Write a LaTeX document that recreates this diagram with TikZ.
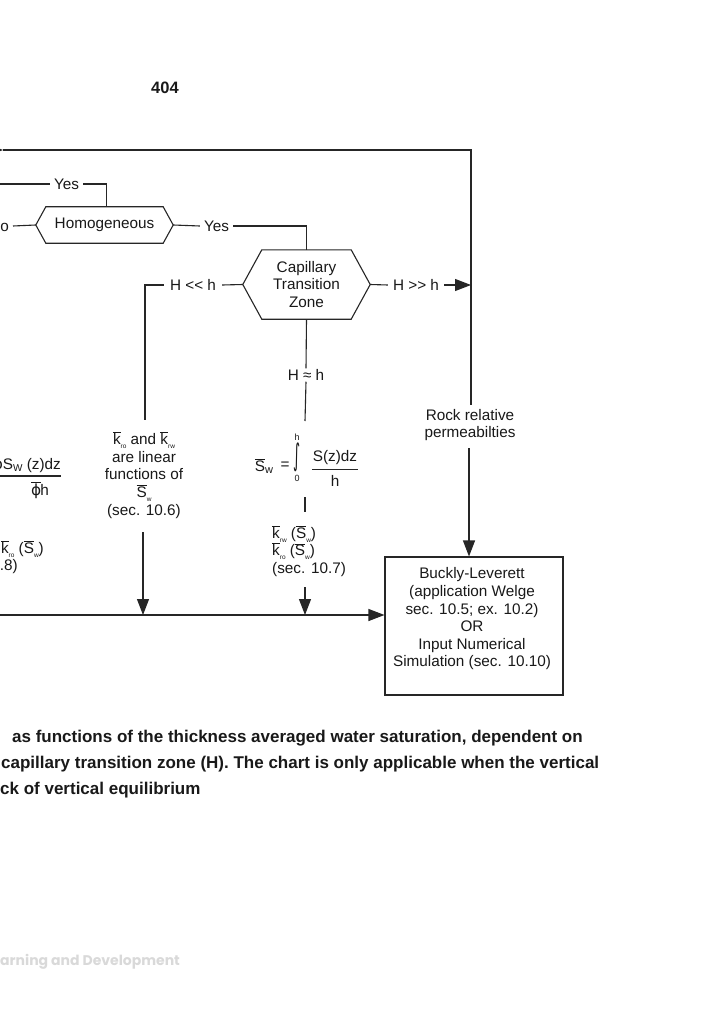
\documentclass[tikz,border=0pt]{standalone}
\usepackage{fontspec}
\setmainfont{Liberation Sans}
\newfontfamily\dejavu{DejaVu Sans}
\newfontfamily\footfont{Poppins}
\usetikzlibrary{arrows.meta,calc}
\newcommand{\ovl}[1]{$\overline{\mbox{#1}}$}
\newcommand{\sbs}[1]{\raisebox{-0.45ex}{\fontsize{6.5}{6.5}\selectfont #1}}
\newcommand{\kk}[1]{\ovl{k}\sbs{#1}}
\newcommand{\SSw}{\ovl{S}\sbs{w}}
\begin{document}
\begin{tikzpicture}[x=1pt,y=-1pt,
  base/.style={font=\fontsize{15.3}{17.6}\selectfont, inner ysep=1pt, inner xsep=4pt, text=black!90},
  small/.style={font=\fontsize{9}{9}\selectfont, inner sep=0pt, text=black!90},
  ln/.style={line width=1.1pt, draw=black!85},
  arr/.style={ln, -{Triangle[length=16pt,width=12pt]}},
  hexbox/.style={base, inner sep=0pt, align=center}]
\useasboundingbox (0,0) rectangle (724,1024);
\fill[white] (0,0) rectangle (724,1024);

% title
\node[font=\fontsize{16.5}{18}\selectfont\bfseries, text=black!90] (title) at (165,88) {404};

% top decision row
\node[base] (yes1) at (66.5,184) {Yes};
\node[base, anchor=east] (no) at (13,226) {No};
\node[hexbox, minimum width=137, minimum height=36] (hom) at (104.5,225) {Homogeneous};
\draw[ln] (hom.west) -- ([xshift=10]hom.north west) -- ([xshift=-10]hom.north east)
  -- (hom.east) -- ([xshift=-10]hom.south east) -- ([xshift=10]hom.south west) -- cycle;
\node[base] (yes2) at (216.5,226) {Yes};

\node[hexbox, minimum width=127, minimum height=69, font=\fontsize{15.3}{17.4}\selectfont] (cap) at (306.5,284.5) {Capillary\\Transition\\Zone};
\draw[ln] (cap.west) -- ([xshift=19]cap.north west) -- ([xshift=-19]cap.north east)
  -- (cap.east) -- ([xshift=-19]cap.south east) -- ([xshift=19]cap.south west) -- cycle;

\node[base, inner xsep=6pt] (hll) at (193,285) {H {<}{<} h};
\node[base, inner xsep=5pt] (hgg) at (416,285) {H {>}{>} h};
\node[base] (happ) at (306,375) {H ≈ h};

% coordinates
\coordinate (tl) at (3,150);
\coordinate (tr) at (471,150);
\coordinate (rtop) at (471,405);
\coordinate (lyes) at (0,184);
\coordinate (lmain) at (0,615);
\coordinate (ltop) at (145,420);
\coordinate (lbot) at (143,532);
\coordinate (lend) at (143,615);
\coordinate (mtop) at (305,421);
\coordinate (mmid1) at (305,497);
\coordinate (mmid2) at (305,512);
\coordinate (mbot) at (305,587);
\coordinate (mend) at (305,615);
\coordinate (rbot) at (469,448);

% texts
\node[base, align=center] (lin) at (144,475) {\kk{ro} and \kk{rw}\\are linear\\functions of\\\SSw\\(sec. 10.6)};

% middle formula
\node[base, inner xsep=0pt] (fsw) at (264,466) {\ovl{S}\raisebox{-0.3ex}{\fontsize{11}{11}\selectfont w}};
\node[base, inner xsep=0pt] (feq) at (285,466) {=};
\node[inner sep=0pt, text=black!90] (fint) at (297,457) {\scalebox{0.9}[2.0]{\fontsize{15}{15}\dejavu ∫}};
\node[small] (fh) at (297,437) {h};
\node[small] (f0) at (297,478) {0};
\node[base, inner xsep=0pt] (fnum) at (335,458) {S(z)dz};
\node[base, inner xsep=0pt] (fden) at (335,481) {h};
\coordinate (fbar1) at (312,469);
\coordinate (fbar2) at (358,469);

\node[base, align=left, anchor=west] (kmid) at (268,551) {\kk{rw} (\SSw)\\\kk{ro} (\SSw)\\(sec. 10.7)};
\node[base, align=center] (rock) at (470,425) {Rock relative\\permeabilties};
\node[ln, draw, minimum width=178, minimum height=138] (box) at (474,626) {};
\node[base, align=center] (boxtext) at (472,619) {Buckly-Leverett\\(application Welge\\sec. 10.5; ex. 10.2)\\OR\\Input Numerical\\Simulation (sec. 10.10)};

% left clipped texts
\node[base, anchor=east, inner xsep=0pt] (lnum) at (61,465) {{\dejavu ϕ}S\raisebox{-0.3ex}{\fontsize{10}{10}\selectfont W} (z)dz};
\coordinate (fbl) at (0,476);
\coordinate (fbr) at (61,476);
\node[base] (lden) at (40,490) {$\overline{\mbox{\dejavu ϕ}}$\hspace{-1pt}h};
\node[base, anchor=east, inner xsep=0pt] (lk) at (44,549) {\kk{ro} (\SSw)};
\node[base, anchor=east, inner xsep=0pt] (lsec) at (18,567) {(sec. 10.8)};

% connectors
\draw[arr] (-13,150) -- (tl);
\draw[ln] (tl) -- (tr) -- (rtop);
\draw[ln] (lyes) -- (yes1.west);
\draw[ln] (yes1.east) -| ([xshift=2]hom.north);
\draw[ln] (no.east) -- (hom.west);
\draw[ln] (hom.east) -- (yes2.west);
\draw[ln] (yes2.east) -| (cap.north);
\draw[ln] (cap.west) -- (hll.east);
\draw[ln] (hll.west) -| (ltop);
\draw[ln] (cap.east) -- (hgg.west);
\draw[arr] (hgg.east) -- (tr |- hgg);
\draw[ln] (cap.south) -- (happ.north);
\draw[ln] (happ.south) -- (mtop);
\draw[ln] (mmid1) -- (mmid2);
\draw[arr] (lbot) -- (lend);
\draw[arr] (mbot) -- (mend);
\draw[arr] (lmain) -- (lmain -| box.west);
\draw[arr] (rbot) -- (rbot |- box.north);
\draw[ln] (fbl) -- (fbr);
\draw[line width=0.9pt, draw=black!85] (fbar1) -- (fbar2);

% caption
\begin{scope}[every node/.style={anchor=base west, inner sep=0pt, font=\fontsize{17}{20}\selectfont\bfseries, text=black!90}]
\node (c1) at (12,742) {as functions of the thickness averaged water saturation, dependent on};
\node (c2) at (1,768) {capillary transition zone (H). The chart is only applicable when the vertical};
\node (c3) at (0,794) {ck of vertical equilibrium};
\end{scope}

% footer
\node[anchor=base west, inner sep=0pt, font=\footfont\bfseries\fontsize{14}{16}\selectfont, text=black!15] (foot) at (0,965) {arning and Development};
\end{tikzpicture}
\end{document}
